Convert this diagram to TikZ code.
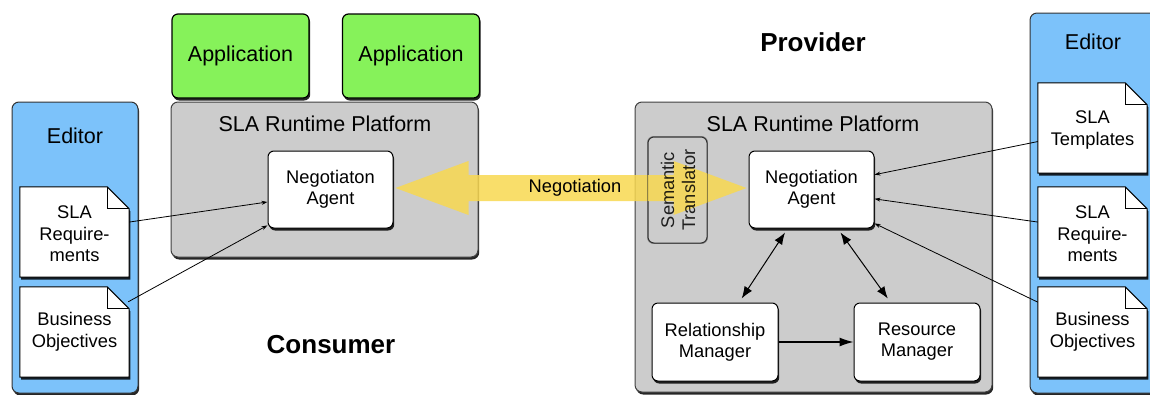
\documentclass[tikz,border=0pt]{standalone}
\usepackage{fontspec}
\setmainfont{Liberation Sans}
\usetikzlibrary{calc,shadows,arrows.meta}
\definecolor{appgreen}{RGB}{134,242,90}
\definecolor{edblue}{RGB}{124,194,250}
\definecolor{platgrey}{RGB}{204,204,204}
\definecolor{negyellow}{RGB}{248,216,80}
\tikzset{
  boxshadow/.style={drop shadow={shadow xshift=1.2pt,shadow yshift=-2.5pt,fill=black,opacity=0.85}},
  appbox/.style={draw=black,line width=1.2pt,fill=appgreen,rounded corners=6pt,boxshadow,
     minimum width=137pt,minimum height=84pt,font=\fontsize{21.5}{24}\selectfont,inner sep=0pt},
  editorbox/.style={draw=black!80,line width=1pt,fill=edblue,rounded corners=7pt,boxshadow,inner sep=0pt},
  platbox/.style={draw=black!75,line width=1pt,fill=platgrey,rounded corners=7pt,boxshadow,inner sep=0pt},
  whitebox/.style={draw=black,line width=1pt,fill=white,rounded corners=6pt,boxshadow,align=center,
     font=\fontsize{18.3}{21}\selectfont,inner sep=0pt},
  docnode/.style={minimum width=109pt,minimum height=90pt,inner sep=0pt,align=center,
     font=\fontsize{18.3}{21.5}\selectfont},
  title/.style={font=\fontsize{21.5}{24}\selectfont,inner sep=0pt},
  big/.style={font=\fontsize{26}{28}\bfseries\selectfont,inner sep=0pt},
  feed/.style={line width=0.8pt,-{Stealth[length=6pt,width=4pt]}},
  biarrow/.style={line width=1pt,{Latex[length=12pt,width=9pt]}-{Latex[length=12pt,width=9pt]}},
}
\newcommand{\docshape}[1]{%
  \fill[black,opacity=0.85] ($(#1.north west)+(1.2,2.5)$) -- ($(#1.north east)+(-20.8,2.5)$) -- ($(#1.north east)+(1.2,24.5)$) -- ($(#1.south east)+(1.2,2.5)$) -- ($(#1.south west)+(1.2,2.5)$) -- cycle;
  \draw[line width=1pt,fill=white] (#1.north west) -- ($(#1.north east)+(-22,0)$) -- ($(#1.north east)+(0,22)$) -- (#1.south east) -- (#1.south west) -- cycle;
  \draw[line width=0.8pt] ($(#1.north east)+(-22,0)$) -- ($(#1.north east)+(-22,22)$) -- ($(#1.north east)+(0,22)$);
}
\begin{document}
\begin{tikzpicture}[x=1pt,y=-1pt]
\useasboundingbox (0,0) rectangle (1150,394);
% Applications
\node[appbox] (app1) at (240.5,56) {Application};
\node[appbox] (app2) at (411,56) {Application};
% Left editor
\node[editorbox,minimum width=126pt,minimum height=291pt] (edL) at (75,247.5) {};
\node[title] (edLt) at (75,136) {Editor};
% Left platform
\node[platbox,minimum width=307pt,minimum height=155pt] (platL) at (324.5,179.5) {};
\node[title] (platLt) at (325,124) {SLA Runtime Platform};
\node[whitebox,minimum width=125pt,minimum height=77pt] (naL) at (330.5,189.5) {Negotiaton\\Agent};
% Left docs
\node[docnode] (reqL) at (74.5,232) {};
\node[docnode] (bizL) at (74.5,332) {};
\docshape{reqL}
\docshape{bizL}
\node[docnode] (reqLt) at (74.5,234) {SLA\\Require-\\ments};
\node[docnode] (bizLt) at (74.5,332) {Business\\Objectives};
\node[big] (cons) at (331,345) {Consumer};
% Right platform
\node[platbox,minimum width=357pt,minimum height=290pt] (platR) at (813.5,247) {};
\node[title] (platRt) at (813,124) {SLA Runtime Platform};
\node[draw=black!80,line width=1pt,fill=platgrey,rounded corners=6pt,minimum width=59pt,minimum height=106pt,inner sep=0pt] (sem) at (677.5,190) {};
\node[whitebox,minimum width=125pt,minimum height=77pt] (naR) at (811.5,189.5) {Negotiation\\Agent};
\node[whitebox,minimum width=126pt,minimum height=78pt] (rel) at (715,342) {Relationship\\Manager};
\node[whitebox,minimum width=126pt,minimum height=78pt] (res) at (917,342) {Resource\\Manager};
\node[big] (prov) at (813,42) {Provider};
% Right editor
\node[editorbox,minimum width=130pt,minimum height=380pt] (edR) at (1095,203) {};
\node[title] (edRt) at (1093,42) {Editor};
\node[docnode] (tplR) at (1092.5,128) {};
\node[docnode] (reqR) at (1092.5,232) {};
\node[docnode] (bizR) at (1092.5,332) {};
\docshape{tplR}
\docshape{reqR}
\docshape{bizR}
\node[docnode] (tplRt) at (1092.5,130) {SLA\\Templates};
\node[docnode] (reqRt) at (1092.5,234) {SLA\\Require-\\ments};
\node[docnode] (bizRt) at (1092.5,332) {Business\\Objectives};
% Negotiation big arrow
\coordinate (tipL) at ($(naL.east)+(2,-1.5)$);
\coordinate (tipR) at ($(naR.west)+(-2,-1.5)$);
\fill[negyellow,opacity=0.85] (tipL) -- ++(73,-27) -- ++(0,14) -- ($(tipR)+(-73,-13)$) -- ++(0,-14) -- (tipR) -- ++(-73,27) -- ++(0,-14) -- ($(tipL)+(73,13)$) -- ++(0,14) -- cycle;
\draw[black!80,line width=0.8pt,opacity=0.5,rounded corners=6pt] (sem.north west) rectangle (sem.south east);
\node[rotate=90,align=center,font=\fontsize{18.3}{21}\selectfont,inner sep=0pt,text opacity=0.85] (semt) at (678,190) {Semantic\\Translator};
\node[font=\fontsize{18.3}{21}\selectfont,inner sep=0pt] (negl) at (575,188) {Negotiation};
% Feeds left
\draw[feed] ($(reqL.north east)!0.39!(reqL.south east)$) -- ($(naL.north west)!0.66!(naL.south west)$);
\draw[feed] ($(bizL.north east)+(-1,15)$) -- ($(naL.north west)!0.96!(naL.south west)$);
% Feeds right
\draw[feed] ($(tplR.north west)!0.65!(tplR.south west)$) -- ($(naR.north east)!0.31!(naR.south east)$);
\draw[feed] ($(reqR.north west)!0.39!(reqR.south west)$) -- ($(naR.north east)!0.62!(naR.south east)$);
\draw[feed] ($(bizR.north west)!0.17!(bizR.south west)$) -- ($(naR.north east)!0.935!(naR.south east)$);
% Internal arrows
\draw[biarrow] ($(naR.south west)!0.29!(naR.south east)+(0,4)$) -- ($(rel.north west)!0.71!(rel.north east)+(0,-4)$);
\draw[biarrow] ($(naR.south west)!0.73!(naR.south east)+(0,4)$) -- ($(res.north west)!0.27!(res.north east)+(0,-4)$);
\draw[line width=1.2pt,-{Latex[length=14pt,width=9pt]}] (rel.east) -- (res.west);
\end{tikzpicture}
\end{document}
